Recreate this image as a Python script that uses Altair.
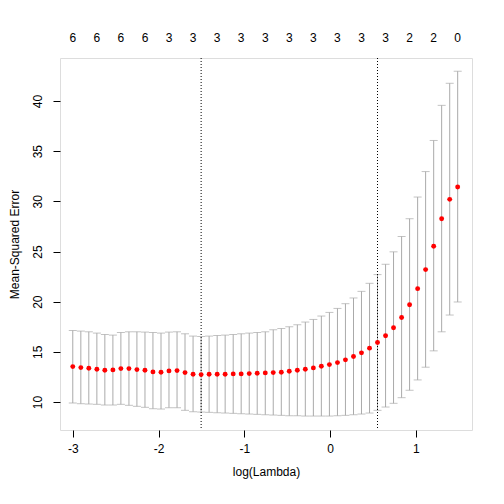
import altair as alt
import pandas as pd

log_lambda = [-3.000, -2.906, -2.813, -2.719, -2.626, -2.532, -2.439, -2.345, -2.252, -2.158,
              -2.065, -1.971, -1.878, -1.784, -1.691, -1.597, -1.503, -1.410, -1.316, -1.223,
              -1.129, -1.036, -0.942, -0.849, -0.755, -0.662, -0.568, -0.475, -0.381, -0.288,
              -0.194, -0.101, -0.007, 0.087, 0.180, 0.274, 0.367, 0.461, 0.554, 0.648,
              0.741, 0.835, 0.928, 1.022, 1.115, 1.209, 1.302, 1.396, 1.489]
mse_mean = [13.53, 13.43, 13.37, 13.27, 13.17, 13.2, 13.33, 13.33, 13.23, 13.17,
            13.0, 12.97, 13.1, 13.13, 12.93, 12.77, 12.73, 12.77, 12.77, 12.77,
            12.8, 12.8, 12.83, 12.87, 12.9, 12.93, 12.97, 13.07, 13.17, 13.27,
            13.4, 13.57, 13.73, 13.93, 14.2, 14.53, 14.9, 15.37, 15.93, 16.6,
            17.4, 18.43, 19.7, 21.3, 23.2, 25.53, 28.27, 30.2, 31.43]
mse_upper = [17.13, 17.07, 17.0, 16.87, 16.73, 16.67, 16.93, 17.0, 17.0, 16.97,
             16.93, 16.87, 16.97, 17.0, 16.8, 16.57, 16.53, 16.57, 16.63, 16.67,
             16.73, 16.8, 16.87, 16.93, 17.0, 17.2, 17.33, 17.5, 17.7, 17.97,
             18.23, 18.57, 18.93, 19.33, 19.8, 20.37, 21.03, 21.83, 22.7, 23.73,
             24.97, 26.5, 28.27, 30.43, 32.97, 36.07, 39.57, 41.77, 42.97]
mse_lower = [9.9, 9.83, 9.8, 9.77, 9.7, 9.7, 9.77, 9.67, 9.57, 9.47,
             9.33, 9.3, 9.43, 9.43, 9.17, 9.03, 9.0, 8.97, 8.93, 8.9,
             8.87, 8.83, 8.8, 8.77, 8.73, 8.7, 8.67, 8.63, 8.63, 8.6,
             8.6, 8.6, 8.6, 8.63, 8.67, 8.73, 8.8, 8.9, 9.17, 9.5,
             9.87, 10.43, 11.17, 12.2, 13.47, 15.1, 17.0, 18.67, 19.97]
top_pos = [-3.000, -2.719, -2.439, -2.158, -1.878, -1.597, -1.316, -1.036, -0.755,
           -0.475, -0.194, 0.087, 0.367, 0.648, 0.928, 1.209, 1.489]
top_nzero = ["6", "6", "6", "6", "3", "3", "3", "3", "3", "3", "3", "3", "3", "3", "2", "2", "0"]
vlines = [-1.503, 0.554]

df = pd.DataFrame({"x": log_lambda, "m": mse_mean, "hi": mse_upper, "lo": mse_lower})
dtop = pd.DataFrame({"x": top_pos, "lab": top_nzero})
dv = pd.DataFrame({"x": vlines})

FONT = "Liberation Sans"
xs = alt.Scale(domain=[-3.149, 1.656], nice=False, zero=False)
ys = alt.Scale(domain=[7.21, 44.29], nice=False, zero=False)

xax = alt.Axis(values=[-3, -2, -1, 0, 1], title="log(Lambda)", grid=False, domain=False,
               tickColor="black", tickSize=7, labelPadding=6, titlePadding=12,
               labelFont=FONT, labelFontSize=12, labelColor="black", titleFont=FONT,
               titleFontSize=12, titleFontWeight="normal", titleColor="black",
               labelExpr="datum.value + ''")
yax = alt.Axis(values=[10, 15, 20, 25, 30, 35, 40], title="Mean-Squared Error", grid=False,
               domain=False, tickColor="black", tickSize=7, labelAngle=-90, labelAlign="center",
               labelBaseline="bottom", labelPadding=9, titlePadding=10,
               labelFont=FONT, labelFontSize=12, labelColor="black", titleFont=FONT,
               titleFontSize=12, titleFontWeight="normal", titleColor="black")

base = alt.Chart(df)
bars = base.mark_rule(color="#AAAAAA", strokeWidth=1).encode(
    x=alt.X("x:Q", scale=xs, axis=xax),
    y=alt.Y("lo:Q", scale=ys, axis=yax),
    y2="hi:Q",
)
cap_hi = base.mark_tick(color="#AAAAAA", orient="horizontal", size=8, thickness=1).encode(
    x=alt.X("x:Q", scale=xs), y=alt.Y("hi:Q", scale=ys))
cap_lo = base.mark_tick(color="#AAAAAA", orient="horizontal", size=8, thickness=1).encode(
    x=alt.X("x:Q", scale=xs), y=alt.Y("lo:Q", scale=ys))
vl = alt.Chart(dv).mark_rule(color="black", strokeWidth=1, strokeDash=[1, 2]).encode(
    x=alt.X("x:Q", scale=xs))
pts = base.mark_circle(color="red", size=24, opacity=1).encode(
    x=alt.X("x:Q", scale=xs), y=alt.Y("m:Q", scale=ys))
top = alt.Chart(dtop).mark_text(font=FONT, fontSize=12, color="black", baseline="middle").encode(
    x=alt.X("x:Q", scale=xs), y=alt.value(-20), text="lab:N")

chart = alt.layer(bars, cap_hi, cap_lo, vl, pts, top).properties(
    width=412, height=372,
    autosize=alt.AutoSizeParams(type="none"),
    padding={"left": 52, "top": 50, "right": 24, "bottom": 66},
).configure_view(stroke="black", strokeWidth=1).configure(background="white")

chart.save("out.html", embed_options={"renderer": "svg", "actions": False})
